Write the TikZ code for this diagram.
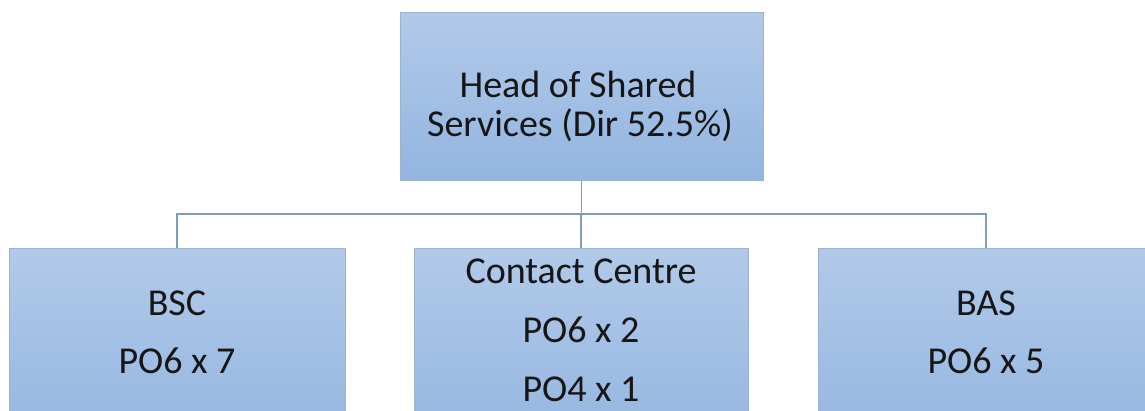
\documentclass[tikz,border=0pt]{standalone}
\usepackage{fontspec}
\setmainfont{Carlito}
\definecolor{boxtop}{HTML}{B2CAE9}
\definecolor{boxbot}{HTML}{93B5E0}
\definecolor{boxline}{HTML}{9DB2CC}
\definecolor{conn}{HTML}{7C9CC4}
\definecolor{txt}{HTML}{161616}
\begin{document}
\begin{tikzpicture}[x=1pt,y=-1pt,
  orgbox/.style={draw=boxline, line width=1pt, top color=boxtop, bottom color=boxbot, inner sep=0pt},
  conline/.style={draw=conn, line width=1.3pt},
  toptxt/.style={text=txt, font=\fontsize{38}{40}\selectfont, inner sep=0pt, anchor=base},
  bottxt/.style={text=txt, font=\fontsize{38}{58}\selectfont, inner sep=0pt, anchor=base}]
\useasboundingbox (0,0) rectangle (1145,410);
\clip (0,0) rectangle (1145,410);
\node[orgbox, minimum width=363pt, minimum height=168pt] (head) at (581.5,96) {};
\node[orgbox, minimum width=336pt, minimum height=200pt] (bsc) at (177,348) {};
\node[orgbox, minimum width=334pt, minimum height=200pt] (cc) at (581,348) {};
\node[orgbox, minimum width=336pt, minimum height=200pt] (bas) at (986,348) {};
\coordinate (bus) at (581,214);
\node[toptxt] (head1) at (578,97) {Head of Shared};
\node[toptxt] (head2) at (580,136) {Services (Dir 52.5\%)};
\node[bottxt] (bsc1) at (177,315) {BSC};
\node[bottxt] (bsc2) at (177,373) {PO6 x 7};
\node[bottxt] (cc1) at (581,283) {Contact Centre};
\node[bottxt] (cc2) at (581,342) {PO6 x 2};
\node[bottxt] (cc3) at (581,401) {PO4 x 1};
\node[bottxt] (bas1) at (986,315) {BAS};
\node[bottxt] (bas2) at (986,373) {PO6 x 5};
\draw[conline] (head.south) -- (head.south |- bus);
\draw[conline] (bsc.north) -- (bsc.north |- bus) -- (bas.north |- bus) -- (bas.north);
\draw[conline] (cc.north) -- (cc.north |- bus);
\end{tikzpicture}
\end{document}
